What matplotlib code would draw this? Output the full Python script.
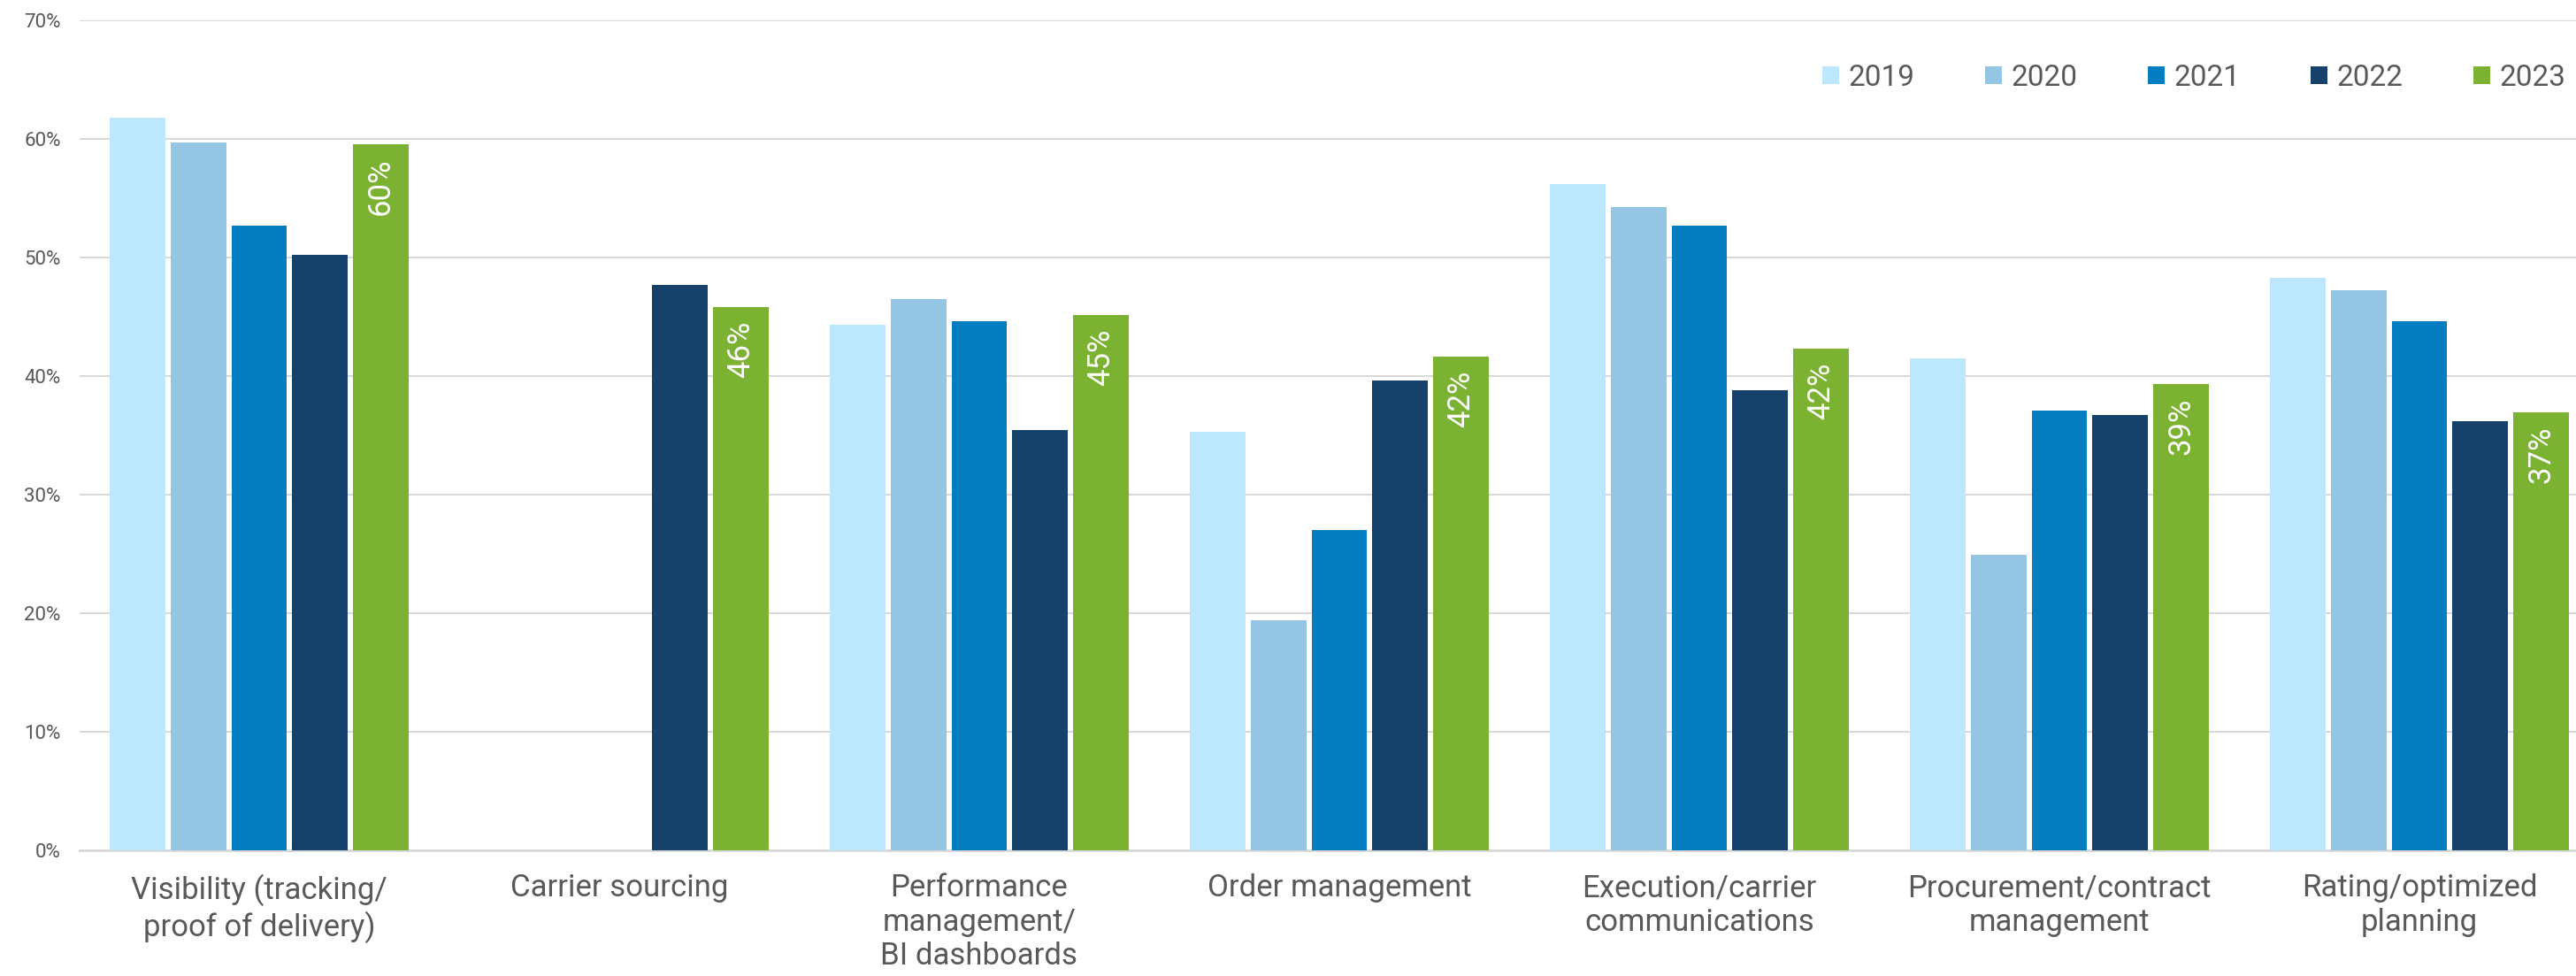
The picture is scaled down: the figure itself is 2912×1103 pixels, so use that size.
"""
Grouped bar chart: TMS capability usage by year (2019-2023).
Output: out.png (2912 x 1103 px)
"""

import matplotlib
matplotlib.use("Agg")
import matplotlib.pyplot as plt
import numpy as np

# ── Data ─────────────────────────────────────────────────
categories = [
    "Visibility (tracking/\nproof of delivery)",
    "Carrier sourcing",
    "Performance\nmanagement/\nBI dashboards",
    "Order management",
    "Execution/carrier\ncommunications",
    "Procurement/contract\nmanagement",
    "Rating/optimized\nplanning",
]
years = ["2019", "2020", "2021", "2022", "2023"]

v2019 = [61.8, np.nan, 44.3, 35.3, 56.2, 41.5, 48.3]
v2020 = [59.7, np.nan, 46.5, 19.4, 54.2, 24.9, 47.2]
v2021 = [52.7, np.nan, 44.6, 27.0, 52.7, 37.1, 44.6]
v2022 = [50.2, 47.7, 35.4, 39.6, 38.8, 36.7, 36.2]
v2023 = [59.5, 45.8, 45.1, 41.6, 42.3, 39.3, 36.9]

y_ticks = [0, 10, 20, 30, 40, 50, 60, 70]

# ── Style ────────────────────────────────────────────────
COLORS = ["#BDE7FC", "#94C6E4", "#037CC0", "#15416B", "#7BB232"]
TEXT_COLOR = "#595959"
GRID_COLOR = "#D9D9D9"
BAR_WIDTH = 0.154
BAR_STEP = 0.169

plt.rcParams["font.family"] = ["Roboto", "DejaVu Sans"]

W, H, DPI = 2912, 1103, 100
fig = plt.figure(figsize=(W / DPI, H / DPI), dpi=DPI)
ax = fig.add_axes([89.5 / W, 142 / H, 2849 / W, 938.3 / H])

# ── Bars ─────────────────────────────────────────────────
x = np.arange(len(categories))
series = [v2019, v2020, v2021, v2022, v2023]
containers = []
for i, (year, vals) in enumerate(zip(years, series)):
    offset = (i - 2) * BAR_STEP
    bars = ax.bar(x + offset, np.array(vals, dtype=float), width=BAR_WIDTH,
                  color=COLORS[i], label=year, linewidth=0, zorder=3)
    containers.append(bars)

# Value labels inside the 2023 bars
for rect, val in zip(containers[-1], v2023):
    ax.annotate(f"{val:.0f}%",
                xy=(rect.get_x() + rect.get_width() / 2, val),
                xytext=(0, -11), textcoords="offset points",
                rotation=90, ha="center", va="top",
                color="white", fontsize=25, zorder=4)

# ── Axes ─────────────────────────────────────────────────
ax.set_xlim(-0.5, len(categories) - 0.5)
ax.set_ylim(0, 70)
ax.set_yticks(y_ticks)
ax.set_yticklabels([f"{t}%" for t in y_ticks])
ax.set_xticks(x)
ax.set_xticklabels(categories, linespacing=1.2)

ax.yaxis.grid(True, color=GRID_COLOR, linewidth=1.5, zorder=0)
ax.set_axisbelow(True)
for side in ["top", "right", "left"]:
    ax.spines[side].set_visible(False)
ax.spines["bottom"].set_color(GRID_COLOR)
ax.spines["bottom"].set_linewidth(2)

ax.tick_params(axis="y", length=0, pad=15, labelsize=16, labelcolor=TEXT_COLOR)
ax.tick_params(axis="x", length=0, pad=19, labelsize=25, labelcolor=TEXT_COLOR)

# ── Legend ───────────────────────────────────────────────
leg = fig.legend(loc="center right", bbox_to_anchor=(2900 / W, 1 - 88 / H),
                 ncol=5, frameon=False, fontsize=24,
                 handlelength=0.57, handleheight=0.57, handletextpad=0.3,
                 columnspacing=2.4, borderpad=0, borderaxespad=0)
for t in leg.get_texts():
    t.set_color(TEXT_COLOR)

fig.savefig("out.png", dpi=DPI)
